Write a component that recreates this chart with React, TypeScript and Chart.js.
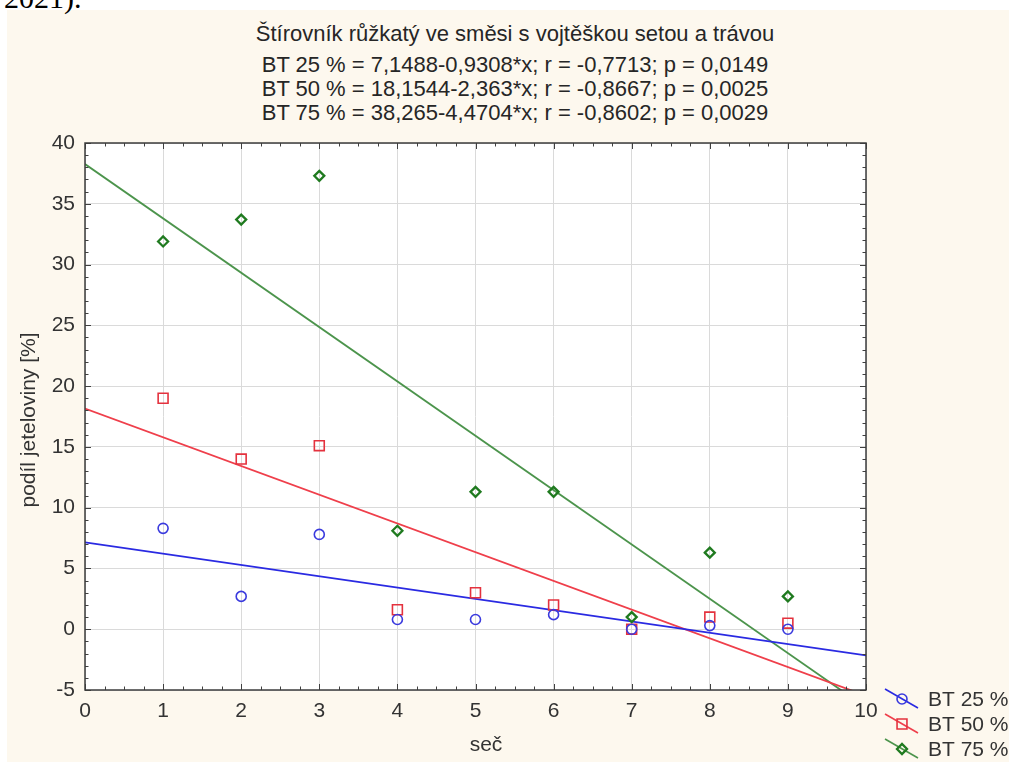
import React, { useEffect, useRef } from 'react';
import { Chart, registerables } from 'chart.js';

Chart.register(...registerables);

// ---- data ----
const cuts = [1, 2, 3, 4, 5, 6, 7, 8, 9];
const bt25 = [8.3, 2.7, 7.8, 0.8, 0.8, 1.2, 0.0, 0.3, 0.0];
const bt50 = [19.0, 14.0, 15.1, 1.6, 3.0, 2.0, 0.0, 1.0, 0.5];
const bt75 = [31.9, 33.7, 37.3, 8.1, 11.3, 11.3, 1.0, 6.3, 2.7];
const seriesNames = ['BT 25 %', 'BT 50 %', 'BT 75 %'];
const intercepts = [7.1488, 18.1544, 38.265];
const slopes = [-0.9308, -2.363, -4.4704];
const xRange = [0, 10];
const yRange = [-5, 40];
const titleLine = 'Štírovník růžkatý ve směsi s vojtěškou setou a trávou';
const equationLines = [
  'BT 25 % = 7,1488-0,9308*x; r = -0,7713; p = 0,0149',
  'BT 50 % = 18,1544-2,363*x; r = -0,8667; p = 0,0025',
  'BT 75 % = 38,265-4,4704*x; r = -0,8602; p = 0,0029',
];
const xTitle = 'seč';
const yTitle = 'podíl jeteloviny [%]';

// ---- styles ----
const FONT = '"Liberation Sans", Arial, sans-serif';
const markerColors = ['#3a3ade', '#e4323e', '#1f7a1f'];
const lineColors = ['#2a2ae2', '#ef3f4b', '#4c944c'];
const markerStyles = ['circle', 'rect', 'rectRot'];
const markerRadii = [5, 7, 5];
const markerWidths = [1.6, 1.6, 2.3];

function drawMarker(ctx: CanvasRenderingContext2D, style: string, cx: number, cy: number, r: number) {
  ctx.beginPath();
  if (style === 'circle') {
    ctx.arc(cx, cy, r, 0, Math.PI * 2);
  } else if (style === 'rect') {
    const s = r * Math.SQRT1_2;
    ctx.rect(cx - s, cy - s, 2 * s, 2 * s);
  } else {
    ctx.moveTo(cx - r, cy);
    ctx.lineTo(cx, cy - r);
    ctx.lineTo(cx + r, cy);
    ctx.lineTo(cx, cy + r);
    ctx.closePath();
  }
  ctx.stroke();
}

const decorPlugin = {
  id: 'decor',
  beforeDraw(chart: any) {
    const { ctx, chartArea } = chart;
    ctx.save();
    ctx.fillStyle = '#ffffff';
    ctx.fillRect(chartArea.left, chartArea.top, chartArea.right - chartArea.left, chartArea.bottom - chartArea.top);
    ctx.restore();
  },
  afterDraw(chart: any) {
    const { ctx, chartArea } = chart;
    const { left, right, top, bottom } = chartArea;
    const xs = chart.scales.x;
    const ys = chart.scales.y;
    ctx.save();
    ctx.strokeStyle = '#404040';
    ctx.lineWidth = 1;
    const seg = (a: number, b: number, c: number, d: number) => {
      ctx.beginPath();
      ctx.moveTo(a, b);
      ctx.lineTo(c, d);
      ctx.stroke();
    };
    for (let i = 0; i <= 40; i++) {
      const v = xRange[0] + i * 0.25;
      const px = Math.round(xs.getPixelForValue(v)) + 0.5;
      const len = i % 4 === 0 ? 6 : 3.5;
      seg(px, bottom, px, bottom - len);
      seg(px, top, px, top + len);
    }
    for (let v = yRange[0]; v <= yRange[1]; v++) {
      const py = Math.round(ys.getPixelForValue(v)) + 0.5;
      const len = v % 5 === 0 ? 6 : 3.5;
      seg(left, py, left + len, py);
      seg(right, py, right - len, py);
    }
    ctx.lineWidth = 1.5;
    ctx.strokeStyle = '#3c3c3c';
    ctx.strokeRect(left, top, right - left, bottom - top);

    // axis titles
    ctx.fillStyle = '#333333';
    ctx.font = `21px ${FONT}`;
    ctx.textAlign = 'center';
    ctx.textBaseline = 'middle';
    ctx.fillText(xTitle, 486, 745);
    ctx.save();
    ctx.translate(29, 420);
    ctx.rotate(-Math.PI / 2);
    ctx.fillText(yTitle, 0, 0);
    ctx.restore();

    // legend
    seriesNames.forEach((name, i) => {
      const cx = 902;
      const cy = 699 + 25 * i;
      ctx.strokeStyle = lineColors[i];
      ctx.lineWidth = 1.6;
      seg(cx - 17, cy - 10, cx + 16, cy + 9);
      ctx.strokeStyle = markerColors[i];
      ctx.lineWidth = markerWidths[i];
      drawMarker(ctx, markerStyles[i], cx, cy, markerRadii[i]);
      ctx.fillStyle = '#333333';
      ctx.textAlign = 'left';
      ctx.fillText(name, 928, cy + 1);
    });
    ctx.restore();
  },
};

export default function App() {
  const canvasRef = useRef<HTMLCanvasElement | null>(null);

  useEffect(() => {
    if (!canvasRef.current) return;
    const seriesValues = [bt25, bt50, bt75];
    const pointSets = seriesValues.map((vals, i) => ({
      type: 'scatter' as const,
      label: seriesNames[i],
      data: cuts.map((c, j) => ({ x: c, y: vals[j] })),
      showLine: false,
      pointStyle: markerStyles[i],
      pointRadius: markerRadii[i],
      pointBorderWidth: markerWidths[i],
      pointBorderColor: markerColors[i],
      pointBackgroundColor: 'rgba(0,0,0,0)',
      order: 0,
    }));
    const fitSets = intercepts.map((a, i) => ({
      type: 'scatter' as const,
      label: seriesNames[i] + ' fit',
      data: xRange.map((x) => ({ x, y: a + slopes[i] * x })),
      showLine: true,
      borderColor: lineColors[i],
      borderWidth: 1.8,
      pointRadius: 0,
      order: 1,
    }));

    const tickFont = { family: FONT, size: 21 };
    const chart = new Chart(canvasRef.current, {
      type: 'scatter',
      data: { datasets: [...pointSets, ...fitSets] as any },
      options: {
        animation: false,
        responsive: false,
        maintainAspectRatio: false,
        layout: { padding: { left: 0, top: 143, right: 143, bottom: 0 } },
        plugins: {
          legend: { display: false },
          title: { display: false },
          tooltip: { enabled: false },
        },
        scales: {
          x: {
            type: 'linear',
            min: xRange[0],
            max: xRange[1],
            afterFit: (s: any) => {
              s.height = 72;
            },
            ticks: { stepSize: 1, font: tickFont, color: '#333333', padding: 9 },
            grid: { color: '#dadada', drawTicks: false },
            border: { display: false },
          },
          y: {
            type: 'linear',
            min: yRange[0],
            max: yRange[1],
            afterFit: (s: any) => {
              s.width = 85;
            },
            ticks: { stepSize: 5, font: tickFont, color: '#333333', padding: 10 },
            grid: { color: '#dadada', drawTicks: false },
            border: { display: false },
          },
        },
      },
      plugins: [decorPlugin],
    });
    return () => chart.destroy();
  }, []);

  const titleStyle = (top: number): React.CSSProperties => ({
    position: 'absolute',
    left: 515,
    top,
    transform: 'translateX(-50%)',
    whiteSpace: 'nowrap',
    fontFamily: FONT,
    fontSize: 22,
    lineHeight: '24px',
    color: '#262626',
  });

  return (
    <div style={{ position: 'fixed', left: 0, top: 0, width: 1009, height: 762, background: '#ffffff', overflow: 'hidden' }}>
      <div style={{ position: 'absolute', left: 7, top: 10, right: 0, bottom: 0, background: '#fdf8ee' }} />
      <div
        style={{
          position: 'absolute',
          left: 4,
          top: -17,
          fontFamily: '"Liberation Serif", "Times New Roman", serif',
          fontSize: 30,
          lineHeight: '30px',
          color: '#000',
          whiteSpace: 'nowrap',
        }}
      >
        2021).
      </div>
      <div style={titleStyle(22)}>{titleLine}</div>
      {equationLines.map((t, i) => (
        <div key={i} style={titleStyle(53 + 24 * i)}>
          {t}
        </div>
      ))}
      <canvas ref={canvasRef} width={1009} height={762} style={{ position: 'absolute', left: 0, top: 0, width: 1009, height: 762 }} />
    </div>
  );
}
